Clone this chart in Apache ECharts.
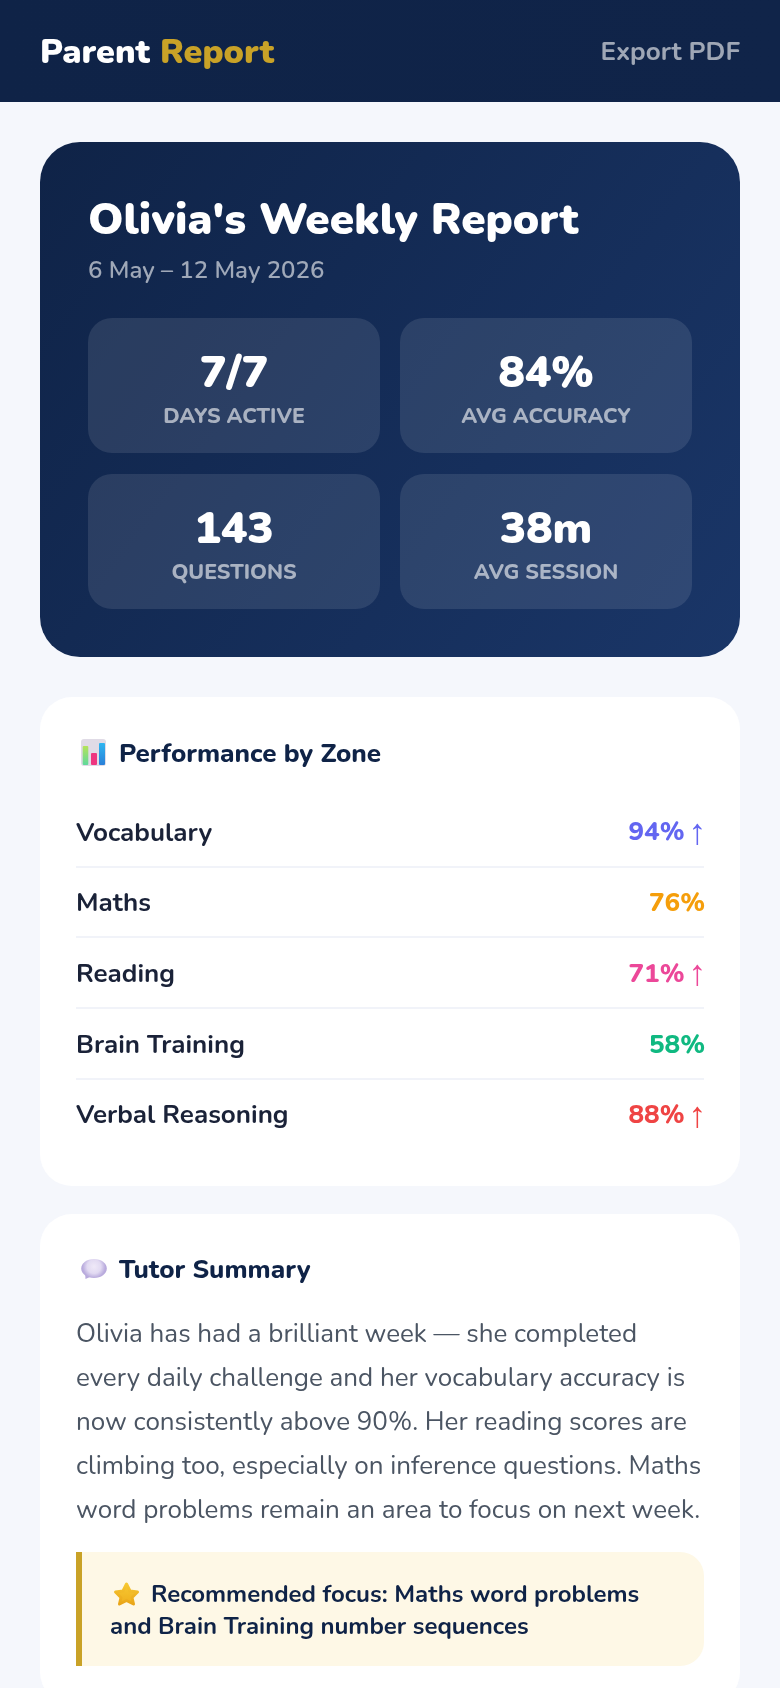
<!DOCTYPE html>
<html><head><meta charset="utf-8">
<style>html,body{margin:0;padding:0;background:#f5f7fc;overflow:hidden}#c{width:780px;height:1688px}</style>
<script src="https://cdn.jsdelivr.net/npm/echarts@6/dist/echarts.min.js"></script></head>
<body><div id="c"></div>
<script>
const FONT = 'Nunito, Lato, "Noto Sans", sans-serif';
const zoneNames = ['Vocabulary','Maths','Reading','Brain Training','Verbal Reasoning'];
const zoneScores = [94,76,71,58,88];
const zoneRising = [true,false,true,false,true];
const zoneColors = ['#6366f1','#f59e0b','#ec4899','#10b981','#ef4444'];
const statValues = ['7/7','84%','143','38m'];
const statLabels = ['DAYS ACTIVE','AVG ACCURACY','QUESTIONS','AVG SESSION'];
const summaryLines = [
 'Olivia has had a brilliant week — she completed',
 'every daily challenge and her vocabulary accuracy is',
 'now consistently above 90%. Her reading scores are',
 'climbing too, especially on inference questions. Maths',
 'word problems remain an area to focus on next week.'];
const focusLines = ['Recommended focus: Maths word problems','and Brain Training number sequences'];

const chart = echarts.init(document.getElementById('c'),null,{renderer:'canvas'});
const T=(x,base,text,size,weight,fill,align)=>({type:'text',x,y:base-0.25*size,silent:true,z:5,style:{text,fontFamily:FONT,fontSize:size,fontWeight:weight,fill,verticalAlign:'middle',align:align||'left'}});
const R=(x,y,w,h,r,fill,z)=>({type:'rect',silent:true,z:z||1,shape:{x,y,width:w,height:h,r},style:{fill}});
const V=(a,b)=>new echarts.graphic.LinearGradient(0,0,0,1,[{offset:0,color:a},{offset:1,color:b}]);
const grad=(a,b)=>new echarts.graphic.LinearGradient(0,0,1,1,[{offset:0,color:a},{offset:1,color:b}]);
const tiles=[[88,318],[400,318],[88,474],[400,474]];
const els=[
 R(0,0,780,102,0,new echarts.graphic.LinearGradient(0,0,1,0,[{offset:0,color:'#0f2347'},{offset:1,color:'#102449'}])),
 T(40,63,'Parent',34,900,'#ffffff'),
 T(160,63,'Report',34,900,'#c9a227'),
 T(740,60,'Export PDF',26,700,'rgba(255,255,255,0.6)','right'),
 R(40,142,700,515,40,grad('#0f2347','#1a3668')),
 T(88,234,"Olivia's Weekly Report",44,900,'#ffffff'),
 T(88,278,'6 May – 12 May 2026',24,600,'rgba(255,255,255,0.6)'),
 R(40,697,700,489,32,'#ffffff'),
 T(119,762,'Performance by Zone',26,800,'#0f2347'),
 R(40,1214,700,490,32,'#ffffff'),
 T(119,1278,'Tutor Summary',26,800,'#0f2347'),
 {type:'rect',silent:true,z:2,shape:{x:76,y:1552,width:628,height:114,r:[0,24,24,0]},style:{fill:'#fef8e6'}},
 R(76,1552,6,114,0,'#c9a227',3),
 T(151,1602,focusLines[0],24,700,'#0f2347'),
 T(110,1634,focusLines[1],24,700,'#0f2347'),
];
tiles.forEach((p,i)=>{
 els.push(R(p[0],p[1],292,135,24,'rgba(255,255,255,0.1)',2));
 els.push(T(p[0]+146,p[1]+69,statValues[i],44,900,'#ffffff','center'));
 els.push(T(p[0]+146,p[1]+105,statLabels[i],21.3,800,'rgba(255,255,255,0.6)','center'));
});
summaryLines.forEach((s,i)=>els.push(T(76,1342+44*i,s,26,400,'#4b5563')));
// icons
els.push(R(81,739,25,27,3,'#e0dbe6',3),
 R(82.7,746,5.6,19,1,V('#b5e35a','#5fd99c'),4),
 R(91,753,6,12,1,'#ee3580',4),
 R(99,743,6,22,1,V('#2fb6f0','#2a7fd8'),4));
els.push({type:'polygon',silent:true,z:3,shape:{points:[[85,1272],[85.5,1279],[92,1276]]},style:{fill:'#b7a8dc'}});
els.push({type:'ellipse',silent:true,z:4,shape:{cx:94,cy:1268.5,rx:12.8,ry:9.5},style:{fill:new echarts.graphic.RadialGradient(0.5,0.4,0.6,[{offset:0,color:'#efe9f8'},{offset:0.6,color:'#e2daf2'},{offset:1,color:'#b9abdd'}])}});
els.push({type:'polygon',silent:true,z:4,shape:{points:[[126.5,1584],[130,1591],[137.5,1592],[132,1597.5],[133.5,1604],[126.5,1600.5],[119.5,1604],[121,1597.5],[115.5,1592],[123,1591]]},style:{fill:V('#f8ca33','#eeae1c'),stroke:V('#f8ca33','#e8a317'),lineWidth:3,lineJoin:'round'}});

chart.setOption({
 animation:false,
 backgroundColor:'#f5f7fc',
 grid:{left:76,right:76,top:795.8,height:353.5},
 xAxis:{type:'value',min:0,max:100,show:false},
 yAxis:{type:'category',inverse:true,data:zoneNames,
  axisLine:{show:false},axisTick:{show:false},
  splitLine:{show:true,showMinLine:false,showMaxLine:false,lineStyle:{color:'#f1f3f9',width:2}},
  axisLabel:{inside:true,margin:0,fontFamily:FONT,fontSize:26,fontWeight:700,color:'#1a2238',verticalAlign:'top',lineHeight:6.5},z:10},
 series:[{type:'scatter',symbolSize:0,z:10,itemStyle:{opacity:1},
  data:zoneScores.map((v,i)=>({value:[100,i],label:{offset:[zoneRising[i]?2.5:1,3]}})),
  label:{show:true,position:'left',distance:0,opacity:1,
   formatter:(p)=>{const i=p.dataIndex;return `{v${i}|${zoneScores[i]}%}`+(zoneRising[i]?`{a${i}|↑}`:'');},
   rich:Object.assign({},...zoneColors.map((c,i)=>({
     ['v'+i]:{fontFamily:FONT,fontSize:26,fontWeight:800,color:c},
     ['a'+i]:{fontFamily:'"Liberation Sans"',fontSize:36,fontWeight:400,color:c,padding:[0,0,0,4]}})))
  }}],
 graphic:{elements:els}
});
</script></body></html>
